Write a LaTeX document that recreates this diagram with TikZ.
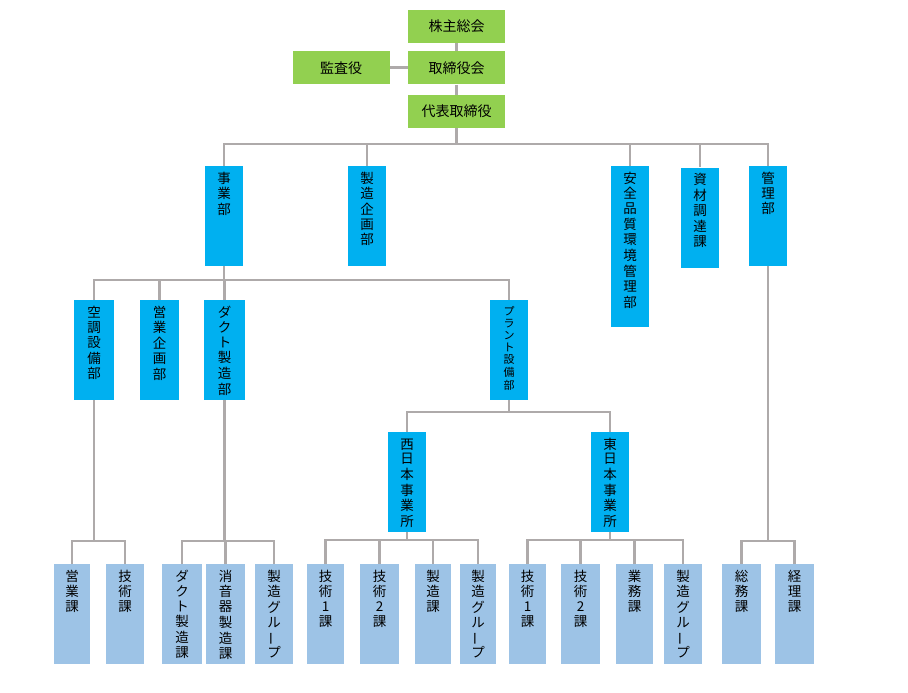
\documentclass[tikz,border=0pt]{standalone}
\usepackage{fontspec}
\setmainfont{Noto Sans CJK JP}
\usetikzlibrary{positioning}
\definecolor{boardgreen}{HTML}{92D050}
\definecolor{deptblue}{HTML}{00B0F0}
\definecolor{sectblue}{HTML}{9DC3E6}
\definecolor{linegray}{HTML}{AEAAAA}
\newcommand{\chouon}{\rotatebox[origin=c]{90}{ー}}
\newcommand{\tate}[1]{\begin{tabular}[t]{@{}c@{}}#1\end{tabular}}
\tikzstyle{board} = [
	rectangle,
	minimum width=97pt,
	minimum height=33pt,
	inner sep=0pt,
	text centered,
	font=\fontsize{14}{16}\selectfont,
	fill=boardgreen
]
\tikzstyle{dept} = [
	rectangle,
	minimum width=38pt,
	inner sep=0pt,
	text height=17pt,
	text depth=83pt,
	font=\fontsize{13.5}{14.6}\selectfont,
	fill=deptblue
]
\tikzstyle{sect} = [
	dept,
	fill=sectblue
]
\tikzstyle{conn} = [draw=linegray, line width=2.8pt]

\begin{document}
\begin{tikzpicture}[x=1pt, y=-1pt]
	\useasboundingbox (0,0) rectangle (908,693);
	\node (soukai) [board] at (456.5,26.5) {株主総会};
	\node (torishimari) [board, below=8pt of soukai] {取締役会};
	\node (kansa) [board, left=18pt of torishimari] {監査役};
	\node (daihyo) [board, below=10pt of torishimari] {代表取締役};
	
	\node (jigyo) [dept] at (224,216) {\tate{事\\業\\部}};
	\node (seizokikaku) [dept] at (367,216) {\tate{製\\造\\企\\画\\部}};
	\node (anzen) [dept, text depth=144pt] at (630,246.5) {\tate{安\\全\\品\\質\\環\\境\\管\\理\\部}};
	\node (shizai) [dept] at (700,217.5) {\tate{資\\材\\調\\達\\課}};
	\node (kanri) [dept] at (768,216) {\tate{管\\理\\部}};
	
	\node (kuchou) [dept, minimum width=40pt] at (94,350) {\tate{空\\調\\設\\備\\部}};
	\node (eigyokikaku) [dept, minimum width=39pt] at (159.5,350) {\tate{営\\業\\企\\画\\部}};
	\node (duct) [dept, minimum width=41pt] at (224.5,350) {\tate{ダ\\ク\\ト\\製\\造\\部}};
	\node (plant) [dept, font=\fontsize{11}{12}\selectfont, text height=15pt, text depth=85pt] at (509,350) {\tate{プ\\ラ\\ン\\ト\\設\\備\\部}};
	
	\node (nishi) [dept] at (407,482) {\tate{西\\日\\本\\事\\業\\所}};
	\node (higashi) [dept] at (610,482) {\tate{東\\日\\本\\事\\業\\所}};
	
	\node (eigyoka) [sect, minimum width=36pt] at (72,614) {\tate{営\\業\\課}};
	\node (gijutsuka) [sect] at (125,614) {\tate{技\\術\\課}};
	\node (ductka) [sect, minimum width=40pt] at (182,614) {\tate{ダ\\ク\\ト\\製\\造\\課}};
	\node (shouonka) [sect, minimum width=39pt] at (225.5,614) {\tate{消\\音\\器\\製\\造\\課}};
	\node (ductgr) [sect] at (274,614) {\tate{製\\造\\グ\\ル\\\chouon\\プ}};
	
	\node (n-gi1) [sect, minimum width=37pt] at (325.5,614) {\tate{技\\術\\1\\課}};
	\node (n-gi2) [sect, minimum width=39pt] at (379.5,614) {\tate{技\\術\\2\\課}};
	\node (n-seizo) [sect, minimum width=36pt] at (433,614) {\tate{製\\造\\課}};
	\node (n-gr) [sect, minimum width=36pt] at (478,614) {\tate{製\\造\\グ\\ル\\\chouon\\プ}};
	
	\node (h-gi1) [sect, minimum width=37pt] at (527.5,614) {\tate{技\\術\\1\\課}};
	\node (h-gi2) [sect, minimum width=39pt] at (580.5,614) {\tate{技\\術\\2\\課}};
	\node (h-gyomu) [sect, minimum width=37pt] at (634.5,614) {\tate{業\\務\\課}};
	\node (h-gr) [sect] at (683,614) {\tate{製\\造\\グ\\ル\\\chouon\\プ}};
	
	\node (soumu) [sect, minimum width=39pt] at (741.5,614) {\tate{総\\務\\課}};
	\node (keiri) [sect, minimum width=39pt] at (794.5,614) {\tate{経\\理\\課}};
	
	\coordinate (bus0) at (456.5,144);
	\coordinate (bus1) at (224,280);
	\coordinate (bus2) at (509,412);
	\coordinate (bus3) at (94,541);
	\coordinate (bus4) at (224.5,541);
	\coordinate (bus5) at (407,540);
	\coordinate (bus6) at (610,540);
	\coordinate (bus7) at (768,541);
	
	\draw [conn] (soukai) -- (torishimari);
	\draw [conn] (torishimari) -- (daihyo);
	\draw [conn] (kansa) -- (torishimari);
	
	\draw [conn] (daihyo) -- (bus0) -| (jigyo);
	\draw [conn] (bus0) -| (seizokikaku);
	\draw [conn] (bus0) -| (anzen);
	\draw [conn] (bus0) -| (shizai);
	\draw [conn] (bus0) -| (kanri);
	
	\draw [conn] (jigyo) -- (bus1) -| (kuchou);
	\draw [conn] (bus1) -| (eigyokikaku);
	\draw [conn] (bus1) -| (duct);
	\draw [conn] (bus1) -| (plant);
	
	\draw [conn] (plant) -- (bus2) -| (nishi);
	\draw [conn] (bus2) -| (higashi);
	
	\draw [conn] (kuchou) -- (bus3) -| (eigyoka);
	\draw [conn] (bus3) -| (gijutsuka);
	
	\draw [conn] (duct) -- (bus4) -| (ductka);
	\draw [conn] (bus4) -| (shouonka);
	\draw [conn] (bus4) -| (ductgr);
	
	\draw [conn] (nishi) -- (bus5) -| (n-gi1);
	\draw [conn] (bus5) -| (n-gi2);
	\draw [conn] (bus5) -| (n-seizo);
	\draw [conn] (bus5) -| (n-gr);
	
	\draw [conn] (higashi) -- (bus6) -| (h-gi1);
	\draw [conn] (bus6) -| (h-gi2);
	\draw [conn] (bus6) -| (h-gyomu);
	\draw [conn] (bus6) -| (h-gr);
	
	\draw [conn] (kanri) -- (bus7) -| (soumu);
	\draw [conn] (bus7) -| (keiri);
\end{tikzpicture}
\end{document}
